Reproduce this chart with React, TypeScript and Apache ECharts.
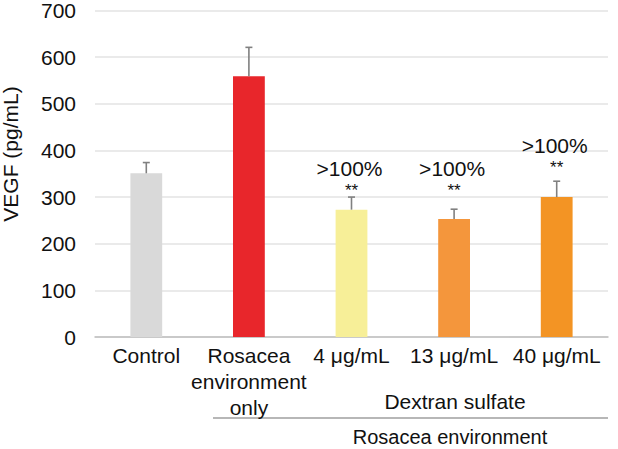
import React, { useEffect, useRef } from "react";
import * as echarts from "echarts";

const categories = ["Control", "Rosacea\nenvironment\nonly", "4 μg/mL", "13 μg/mL", "40 μg/mL"];
const means = [351, 559, 273, 253, 300];
const errorTops = [374, 621, 300, 274, 334];
const barColors = ["#d9d9d9", "#e8262b", "#f7ef98", "#f4963c", "#f39424"];
const percentLabels = ["", "", ">100%", ">100%", ">100%"];
const starLabels = ["", "", "**", "**", "**"];
const markLevels = [null, null, 315, 315, 364];
const yTicks = { min: 0, max: 700, interval: 100 };

export default function App() {
  const ref = useRef<HTMLDivElement>(null);
  useEffect(() => {
    if (!ref.current) return;
    const chart = echarts.init(ref.current, null, { renderer: "svg" });
    const font = "Liberation Sans, Arial, sans-serif";
    chart.setOption({
      animation: false,
      grid: { left: 95, right: 10, top: 9.7, bottom: 112 },
      xAxis: {
        type: "category",
        data: categories,
        axisLine: { lineStyle: { color: "#bfbfbf", width: 1.5 } },
        axisTick: { show: false },
        axisLabel: {
          interval: 0,
          margin: 5,
          color: "#111",
          fontSize: 21,
          lineHeight: 26,
          fontFamily: font,
        },
      },
      yAxis: {
        type: "value",
        min: yTicks.min,
        max: yTicks.max,
        interval: yTicks.interval,
        axisLine: { show: false },
        axisTick: { show: false },
        splitLine: { lineStyle: { color: "#e3e3e3", width: 1.5 } },
        axisLabel: { margin: 19, color: "#111", fontSize: 21, fontFamily: font },
      },
      series: [
        {
          type: "bar",
          barWidth: "31%",
          data: means.map((v, i) => ({ value: v, itemStyle: { color: barColors[i] } })),
        },
        {
          type: "custom",
          data: means.map((v, i) => [i, v, errorTops[i]]),
          renderItem: (params: any, api: any) => {
            const i = api.value(0);
            const top = api.coord([i, api.value(2)]);
            const base = api.coord([i, api.value(1)]);
            const children: any[] = [
              {
                type: "line",
                shape: { x1: top[0], y1: base[1], x2: top[0], y2: top[1] },
                style: { stroke: "#808080", lineWidth: 1.6 },
              },
              {
                type: "line",
                shape: { x1: top[0] - 3.5, y1: top[1], x2: top[0] + 3.5, y2: top[1] },
                style: { stroke: "#808080", lineWidth: 1.6 },
              },
            ];
            const lvl = markLevels[i];
            if (lvl != null) {
              const p = api.coord([i, lvl]);
              children.push({
                type: "text",
                x: p[0],
                y: p[1],
                style: {
                  text: starLabels[i],
                  fontSize: 17,
                  fontFamily: font,
                  fill: "#111",
                  align: "center",
                  verticalAlign: "middle",
                },
              });
              children.push({
                type: "text",
                x: p[0] - 2,
                y: p[1] - 22,
                style: {
                  text: percentLabels[i],
                  fontSize: 21,
                  fontFamily: font,
                  fill: "#111",
                  align: "center",
                  verticalAlign: "middle",
                },
              });
            }
            return { type: "group", children };
          },
          z: 5,
        },
      ],
      graphic: [
        {
          type: "text",
          x: 10,
          y: 154,
          rotation: Math.PI / 2,
          style: {
            text: "VEGF (pg/mL)",
            fontSize: 21,
            fontFamily: font,
            fill: "#111",
            align: "center",
            verticalAlign: "middle",
          },
        },
        {
          type: "text",
          x: 455,
          y: 401,
          style: {
            text: "Dextran sulfate",
            fontSize: 21,
            fontFamily: font,
            fill: "#111",
            align: "center",
            verticalAlign: "middle",
          },
        },
        {
          type: "line",
          shape: { x1: 213, y1: 418, x2: 608, y2: 418 },
          style: { stroke: "#707070", lineWidth: 1.2 },
        },
        {
          type: "text",
          x: 450,
          y: 437,
          style: {
            text: "Rosacea environment",
            fontSize: 20,
            fontFamily: font,
            fill: "#111",
            align: "center",
            verticalAlign: "middle",
          },
        },
      ],
    });
    return () => chart.dispose();
  }, []);
  return (
    <div
      ref={ref}
      style={{ position: "fixed", left: 0, top: 0, width: 618, height: 449, background: "#fff" }}
    />
  );
}
